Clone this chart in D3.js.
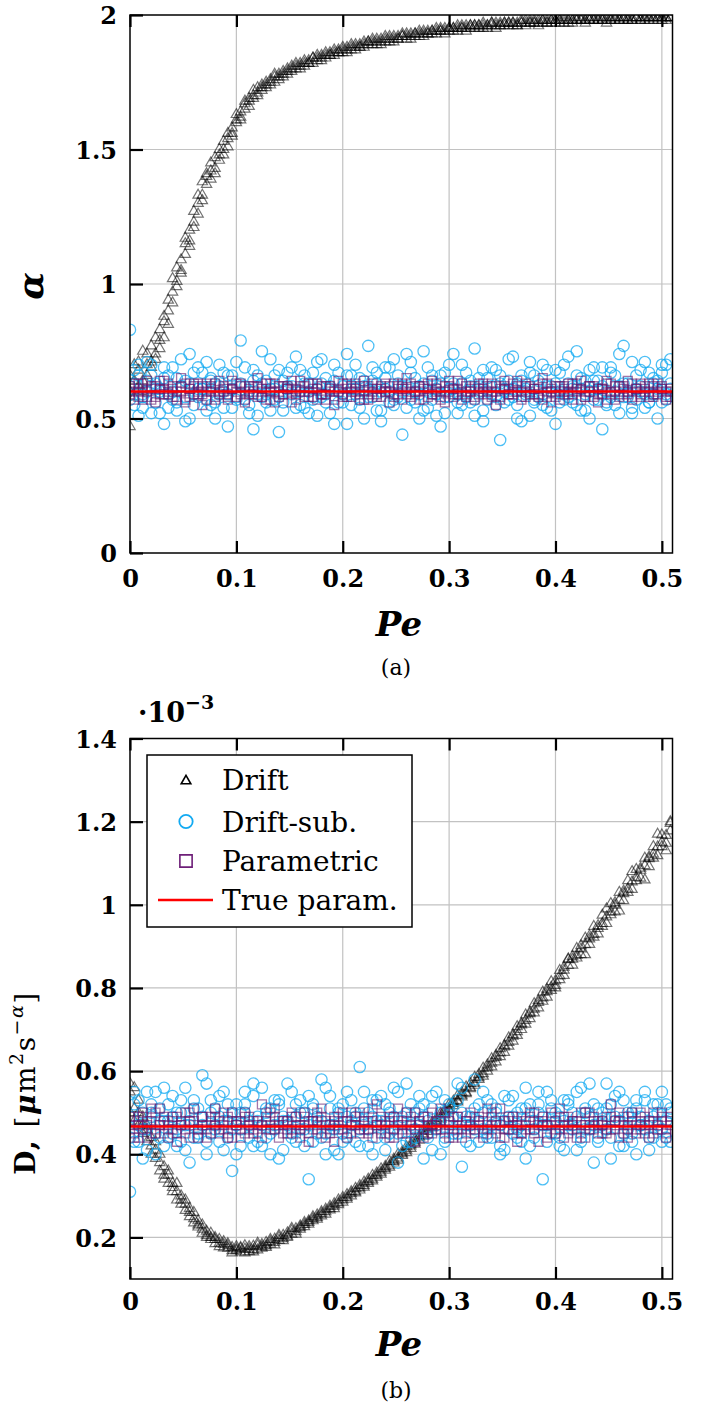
<!DOCTYPE html>
<html><head><meta charset="utf-8">
<script src="https://cdn.jsdelivr.net/npm/d3@7"></script>
<style>body{margin:0;background:#fff;} svg{display:block}</style>
</head><body>
<svg id="chart" width="702" height="1410"></svg>
<script>
// ---------------- DATA ----------------
const Pe = [0,0.004,0.008,0.012,0.016,0.02,0.024,0.028,0.032,0.036,
 0.04,0.044,0.048,0.052,0.056,0.06,0.064,0.068,0.072,0.076,
 0.08,0.084,0.088,0.092,0.096,0.1,0.104,0.108,0.112,0.116,
 0.12,0.124,0.128,0.132,0.136,0.14,0.144,0.148,0.152,0.156,
 0.16,0.164,0.168,0.172,0.176,0.18,0.184,0.188,0.192,0.196,
 0.2,0.204,0.208,0.212,0.216,0.22,0.224,0.228,0.232,0.236,
 0.24,0.244,0.248,0.252,0.256,0.26,0.264,0.268,0.272,0.276,
 0.28,0.284,0.288,0.292,0.296,0.3,0.304,0.308,0.312,0.316,
 0.32,0.324,0.328,0.332,0.336,0.34,0.344,0.348,0.352,0.356,
 0.36,0.364,0.368,0.372,0.376,0.38,0.384,0.388,0.392,0.396,
 0.4,0.404,0.408,0.412,0.416,0.42,0.424,0.428,0.432,0.436,
 0.44,0.444,0.448,0.452,0.456,0.46,0.464,0.468,0.472,0.476,
 0.48,0.484,0.488,0.492,0.496,0.5,0.504,0.508];

// ---- panel (a): alpha, three realisations per Pe ----
const driftAlpha1 = [0.66,0.58,0.71,0.64,0.74,0.69,0.72,0.83,0.80,0.90,
 0.97,1.01,1.09,1.11,1.20,1.23,1.30,1.33,1.37,1.42,
 1.43,1.48,1.50,1.54,1.58,1.60,1.64,1.65,1.68,1.70,
 1.71,1.73,1.74,1.76,1.75,1.78,1.77,1.79,1.80,1.81,
 1.80,1.82,1.83,1.82,1.84,1.84,1.85,1.86,1.85,1.87,
 1.87,1.86,1.88,1.88,1.89,1.88,1.89,1.90,1.90,1.89,
 1.91,1.91,1.90,1.92,1.92,1.91,1.92,1.93,1.93,1.92,
 1.93,1.94,1.93,1.94,1.94,1.94,1.95,1.94,1.95,1.95,
 1.95,1.96,1.95,1.95,1.96,1.96,1.95,1.96,1.96,1.97,
 1.96,1.96,1.97,1.96,1.97,1.97,1.96,1.97,1.97,1.97,
 1.98,1.97,1.97,1.98,1.97,1.98,1.98,1.97,1.98,1.98,
 1.98,1.98,1.97,1.98,1.98,1.99,1.98,1.98,1.98,1.99,
 1.98,1.98,1.99,1.98,1.99,1.98,1.99,1.99];
const driftAlpha2 = [0.60,0.70,0.62,0.75,0.66,0.71,0.80,0.76,0.86,0.94,
 0.93,1.06,1.04,1.15,1.16,1.27,1.26,1.38,1.41,1.39,
 1.47,1.46,1.53,1.51,1.56,1.63,1.62,1.67,1.66,1.69,
 1.73,1.72,1.75,1.74,1.77,1.77,1.79,1.78,1.81,1.80,
 1.82,1.81,1.82,1.84,1.83,1.85,1.84,1.85,1.87,1.86,
 1.88,1.87,1.87,1.89,1.88,1.90,1.90,1.89,1.91,1.90,
 1.90,1.92,1.91,1.91,1.93,1.92,1.93,1.92,1.94,1.93,
 1.94,1.93,1.95,1.94,1.95,1.95,1.94,1.96,1.95,1.96,
 1.96,1.95,1.96,1.97,1.96,1.97,1.96,1.97,1.97,1.96,
 1.97,1.97,1.98,1.97,1.98,1.97,1.98,1.98,1.97,1.98,
 1.98,1.98,1.98,1.97,1.98,1.99,1.98,1.98,1.99,1.98,
 1.99,1.98,1.99,1.98,1.99,1.98,1.99,1.99,1.98,1.99,
 1.99,1.99,1.98,1.99,1.99,1.99,1.98,1.99];
const driftAlpha3 = [0.47,0.64,0.68,0.60,0.70,0.77,0.74,0.79,0.88,0.85,
 1.02,0.99,1.05,1.17,1.14,1.21,1.33,1.31,1.40,1.45,
 1.41,1.50,1.48,1.56,1.55,1.61,1.61,1.68,1.69,1.72,
 1.70,1.74,1.73,1.75,1.78,1.76,1.78,1.80,1.79,1.82,
 1.81,1.83,1.82,1.84,1.85,1.83,1.86,1.85,1.86,1.86,
 1.86,1.88,1.89,1.87,1.88,1.89,1.90,1.91,1.89,1.91,
 1.92,1.90,1.92,1.91,1.92,1.93,1.91,1.93,1.92,1.94,
 1.93,1.94,1.94,1.95,1.93,1.95,1.95,1.95,1.96,1.94,
 1.96,1.96,1.96,1.96,1.95,1.97,1.97,1.96,1.97,1.97,
 1.97,1.96,1.97,1.98,1.97,1.98,1.97,1.98,1.98,1.98,
 1.97,1.98,1.99,1.98,1.98,1.98,1.99,1.98,1.98,1.99,
 1.98,1.99,1.98,1.99,1.99,1.98,1.99,1.98,1.99,1.99,
 1.98,1.99,1.99,1.99,1.98,1.99,1.99,1.99];

const subAlpha1 = [0.83,0.55,0.66,0.58,0.71,0.52,0.63,0.60,0.69,0.54,
 0.57,0.65,0.62,0.49,0.74,0.59,0.61,0.67,0.53,0.64,
 0.56,0.70,0.60,0.47,0.66,0.58,0.79,0.62,0.55,0.68,
 0.51,0.63,0.59,0.72,0.57,0.45,0.64,0.61,0.69,0.54,
 0.60,0.66,0.52,0.58,0.71,0.63,0.56,0.62,0.48,0.67,
 0.59,0.74,0.55,0.61,0.65,0.50,0.77,0.58,0.63,0.53,
 0.69,0.60,0.57,0.66,0.44,0.62,0.71,0.56,0.59,0.75,
 0.54,0.64,0.61,0.47,0.67,0.58,0.63,0.52,0.70,0.60,
 0.56,0.76,0.62,0.49,0.65,0.59,0.68,0.42,0.61,0.57,
 0.73,0.55,0.64,0.60,0.51,0.66,0.58,0.70,0.54,0.62,
 0.48,0.67,0.59,0.63,0.56,0.75,0.61,0.53,0.68,0.57,
 0.64,0.46,0.60,0.69,0.55,0.62,0.77,0.58,0.52,0.66,
 0.60,0.71,0.56,0.63,0.50,0.67,0.59,0.72];
const subAlpha2 = [0.62,0.68,0.51,0.59,0.64,0.70,0.56,0.61,0.48,0.66,
 0.60,0.53,0.72,0.58,0.63,0.55,0.69,0.61,0.57,0.65,
 0.50,0.62,0.67,0.59,0.54,0.71,0.63,0.57,0.60,0.46,
 0.66,0.58,0.64,0.53,0.61,0.68,0.56,0.62,0.59,0.73,
 0.55,0.63,0.60,0.67,0.51,0.58,0.65,0.61,0.70,0.56,
 0.62,0.48,0.66,0.59,0.57,0.64,0.61,0.69,0.53,0.60,
 0.65,0.56,0.72,0.58,0.62,0.54,0.67,0.60,0.50,0.63,
 0.69,0.57,0.59,0.66,0.52,0.61,0.74,0.56,0.63,0.58,
 0.64,0.51,0.60,0.68,0.57,0.62,0.55,0.66,0.60,0.72,
 0.58,0.63,0.49,0.61,0.67,0.56,0.64,0.59,0.62,0.53,
 0.68,0.60,0.57,0.73,0.62,0.55,0.65,0.59,0.50,0.64,
 0.61,0.69,0.56,0.58,0.66,0.52,0.63,0.60,0.71,0.57,
 0.62,0.54,0.67,0.59,0.64,0.56,0.70,0.61];
const subAlpha3 = [0.57,0.63,0.70,0.54,0.60,0.66,0.61,0.52,0.65,0.59,
 0.69,0.56,0.62,0.64,0.50,0.67,0.58,0.61,0.71,0.55,
 0.63,0.59,0.54,0.66,0.61,0.57,0.62,0.69,0.52,0.64,
 0.59,0.75,0.56,0.61,0.66,0.58,0.53,0.67,0.62,0.60,
 0.68,0.54,0.63,0.57,0.61,0.72,0.59,0.52,0.64,0.60,
 0.56,0.66,0.61,0.70,0.54,0.62,0.58,0.64,0.67,0.49,
 0.61,0.69,0.55,0.63,0.60,0.74,0.57,0.65,0.62,0.53,
 0.60,0.66,0.51,0.63,0.58,0.70,0.61,0.59,0.55,0.67,
 0.62,0.57,0.65,0.53,0.60,0.69,0.58,0.63,0.56,0.64,
 0.61,0.50,0.66,0.59,0.71,0.57,0.62,0.55,0.68,0.60,
 0.63,0.56,0.70,0.58,0.61,0.66,0.53,0.64,0.60,0.69,
 0.57,0.62,0.55,0.67,0.60,0.74,0.58,0.63,0.54,0.61,
 0.68,0.59,0.56,0.65,0.61,0.70,0.57,0.63];

const paramAlpha1 = [0.62,0.57,0.60,0.63,0.58,0.61,0.56,0.64,0.59,0.60,
 0.62,0.58,0.65,0.57,0.61,0.59,0.63,0.55,0.60,0.62,
 0.58,0.64,0.60,0.57,0.61,0.63,0.59,0.56,0.62,0.60,
 0.65,0.58,0.61,0.57,0.63,0.60,0.59,0.62,0.56,0.61,
 0.64,0.58,0.60,0.63,0.57,0.62,0.59,0.61,0.55,0.60,
 0.63,0.58,0.62,0.60,0.57,0.64,0.59,0.61,0.58,0.62,
 0.60,0.56,0.63,0.59,0.61,0.65,0.58,0.60,0.62,0.57,
 0.61,0.59,0.63,0.60,0.56,0.62,0.58,0.64,0.60,0.59,
 0.61,0.57,0.63,0.60,0.62,0.58,0.55,0.61,0.64,0.59,
 0.60,0.62,0.57,0.63,0.59,0.61,0.58,0.65,0.60,0.56,
 0.62,0.59,0.61,0.63,0.57,0.60,0.64,0.58,0.62,0.60,
 0.56,0.61,0.63,0.59,0.62,0.58,0.60,0.64,0.57,0.61,
 0.59,0.62,0.60,0.58,0.63,0.61,0.57,0.60];
const paramAlpha2 = [0.60,0.63,0.58,0.61,0.64,0.57,0.62,0.59,0.61,0.63,
 0.58,0.60,0.62,0.56,0.61,0.63,0.59,0.62,0.57,0.60,
 0.63,0.59,0.61,0.58,0.64,0.60,0.62,0.57,0.61,0.59,
 0.62,0.60,0.57,0.63,0.60,0.58,0.62,0.61,0.64,0.59,
 0.60,0.62,0.58,0.61,0.63,0.59,0.57,0.62,0.60,0.64,
 0.58,0.61,0.60,0.63,0.59,0.57,0.62,0.60,0.61,0.58,
 0.63,0.60,0.59,0.62,0.57,0.61,0.63,0.59,0.60,0.62,
 0.58,0.64,0.60,0.57,0.62,0.60,0.61,0.59,0.63,0.58,
 0.60,0.62,0.59,0.61,0.57,0.63,0.60,0.58,0.62,0.61,
 0.59,0.64,0.60,0.58,0.62,0.59,0.61,0.57,0.63,0.60,
 0.58,0.62,0.60,0.59,0.63,0.61,0.57,0.60,0.62,0.58,
 0.61,0.59,0.64,0.60,0.57,0.62,0.61,0.59,0.63,0.60,
 0.58,0.61,0.63,0.59,0.60,0.62,0.58,0.61];
const paramAlpha3 = [0.59,0.61,0.63,0.57,0.60,0.62,0.58,0.61,0.64,0.59,
 0.61,0.57,0.60,0.63,0.58,0.62,0.60,0.59,0.63,0.61,
 0.57,0.60,0.62,0.59,0.61,0.58,0.63,0.60,0.59,0.62,
 0.58,0.61,0.63,0.60,0.56,0.62,0.59,0.61,0.60,0.57,
 0.62,0.60,0.63,0.58,0.61,0.59,0.62,0.60,0.57,0.61,
 0.59,0.63,0.58,0.61,0.62,0.60,0.57,0.63,0.59,0.61,
 0.60,0.62,0.58,0.61,0.63,0.59,0.60,0.62,0.57,0.61,
 0.63,0.59,0.61,0.58,0.60,0.64,0.59,0.61,0.57,0.62,
 0.60,0.58,0.61,0.63,0.59,0.60,0.62,0.57,0.61,0.59,
 0.63,0.60,0.58,0.62,0.60,0.61,0.59,0.63,0.58,0.61,
 0.60,0.57,0.62,0.60,0.59,0.63,0.61,0.58,0.60,0.62,
 0.59,0.61,0.57,0.63,0.60,0.59,0.62,0.60,0.58,0.61,
 0.63,0.60,0.58,0.62,0.59,0.61,0.60,0.58];
const trueAlpha = 0.6;

// ---- panel (b): D in units of 1e-3, three realisations per Pe ----
const driftD1 = [0.55,0.51,0.53,0.47,0.46,0.42,0.43,0.38,0.37,0.35,
 0.33,0.31,0.30,0.28,0.27,0.245,0.24,0.22,0.215,0.20,
 0.195,0.186,0.183,0.174,0.176,0.178,0.165,0.172,0.166,0.179,
 0.17,0.183,0.18,0.19,0.188,0.2,0.197,0.211,0.208,0.221,
 0.224,0.231,0.236,0.245,0.248,0.257,0.262,0.27,0.275,0.283,
 0.29,0.296,0.305,0.31,0.319,0.325,0.334,0.34,0.349,0.357,
 0.366,0.374,0.383,0.391,0.401,0.41,0.42,0.429,0.441,0.449,
 0.461,0.469,0.481,0.489,0.502,0.509,0.522,0.529,0.542,0.549,
 0.561,0.571,0.584,0.594,0.608,0.619,0.633,0.644,0.658,0.669,
 0.684,0.695,0.711,0.722,0.738,0.749,0.765,0.776,0.791,0.802,
 0.817,0.829,0.843,0.854,0.869,0.879,0.894,0.904,0.918,0.929,
 0.943,0.955,0.971,0.983,0.999,1.011,1.027,1.038,1.055,1.066,
 1.083,1.094,1.111,1.122,1.139,1.15,1.167,1.178];
const driftD2 = [0.50,0.56,0.47,0.49,0.43,0.44,0.39,0.40,0.35,0.36,
 0.31,0.33,0.28,0.29,0.25,0.26,0.225,0.23,0.205,0.21,
 0.185,0.195,0.175,0.185,0.168,0.172,0.176,0.163,0.178,0.17,
 0.18,0.174,0.188,0.184,0.196,0.193,0.205,0.203,0.216,0.214,
 0.228,0.226,0.24,0.24,0.254,0.252,0.268,0.266,0.281,0.279,
 0.296,0.292,0.31,0.307,0.325,0.321,0.34,0.336,0.355,0.352,
 0.371,0.369,0.388,0.386,0.406,0.404,0.425,0.424,0.445,0.444,
 0.466,0.464,0.486,0.485,0.507,0.505,0.528,0.526,0.548,0.546,
 0.57,0.566,0.592,0.588,0.615,0.61,0.638,0.635,0.662,0.66,
 0.688,0.686,0.715,0.713,0.742,0.74,0.77,0.768,0.797,0.794,
 0.80,0.82,0.85,0.87,0.876,0.872,0.902,0.88,0.925,0.922,
 0.95,0.948,0.99,0.976,1.005,0.985,1.033,1.03,1.08,1.058,
 1.088,1.06,1.115,1.112,1.17,1.14,1.13,1.196];
const driftD3 = [0.57,0.48,0.50,0.45,0.47,0.40,0.41,0.36,0.34,0.33,
 0.32,0.29,0.29,0.265,0.26,0.235,0.23,0.21,0.2,0.195,
 0.2,0.178,0.19,0.18,0.163,0.168,0.173,0.18,0.172,0.165,
 0.186,0.178,0.176,0.195,0.182,0.205,0.192,0.2,0.222,0.208,
 0.22,0.236,0.232,0.25,0.244,0.262,0.256,0.275,0.269,0.29,
 0.285,0.303,0.3,0.318,0.314,0.333,0.33,0.349,0.345,0.365,
 0.362,0.383,0.379,0.4,0.397,0.418,0.414,0.437,0.434,0.457,
 0.455,0.476,0.476,0.498,0.495,0.52,0.517,0.541,0.538,0.562,
 0.558,0.585,0.58,0.607,0.6,0.63,0.622,0.654,0.645,0.68,
 0.672,0.707,0.7,0.735,0.726,0.762,0.752,0.79,0.778,0.815,
 0.806,0.842,0.83,0.868,0.855,0.895,0.88,0.92,0.905,0.948,
 0.93,0.975,0.955,1.003,0.983,1.03,1.01,1.058,1.037,1.085,
 1.064,1.112,1.092,1.14,1.118,1.168,1.148,1.2];

const subD1 = [0.31,0.55,0.43,0.50,0.46,0.52,0.40,0.48,0.56,0.44,
 0.49,0.42,0.53,0.47,0.38,0.51,0.45,0.59,0.43,0.50,
 0.47,0.54,0.41,0.48,0.36,0.52,0.46,0.50,0.44,0.57,
 0.48,0.42,0.51,0.45,0.53,0.39,0.49,0.47,0.55,0.43,
 0.50,0.46,0.34,0.52,0.48,0.44,0.56,0.47,0.41,0.51,
 0.45,0.49,0.53,0.43,0.61,0.47,0.50,0.40,0.48,0.54,
 0.44,0.51,0.46,0.38,0.49,0.57,0.43,0.50,0.47,0.52,
 0.45,0.41,0.55,0.48,0.44,0.51,0.46,0.53,0.37,0.49,
 0.47,0.58,0.43,0.50,0.45,0.52,0.48,0.40,0.54,0.46,
 0.49,0.44,0.51,0.56,0.42,0.48,0.50,0.34,0.47,0.53,
 0.45,0.49,0.41,0.52,0.47,0.55,0.43,0.50,0.46,0.38,
 0.51,0.48,0.57,0.44,0.49,0.42,0.53,0.46,0.50,0.40,
 0.47,0.55,0.44,0.49,0.52,0.43,0.48,0.51];
const subD2 = [0.44,0.52,0.47,0.39,0.55,0.49,0.45,0.51,0.42,0.48,
 0.54,0.46,0.50,0.41,0.47,0.53,0.44,0.49,0.57,0.45,
 0.51,0.43,0.48,0.52,0.46,0.40,0.50,0.55,0.47,0.42,
 0.49,0.56,0.44,0.51,0.47,0.53,0.41,0.48,0.45,0.52,
 0.46,0.50,0.54,0.43,0.49,0.58,0.45,0.51,0.47,0.40,
 0.52,0.44,0.48,0.50,0.46,0.55,0.42,0.49,0.53,0.47,
 0.41,0.50,0.56,0.45,0.48,0.43,0.52,0.46,0.54,0.49,
 0.44,0.51,0.47,0.40,0.53,0.48,0.45,0.57,0.50,0.43,
 0.49,0.46,0.52,0.55,0.44,0.47,0.51,0.42,0.48,0.53,
 0.45,0.50,0.47,0.39,0.52,0.46,0.55,0.49,0.43,0.51,
 0.48,0.44,0.53,0.47,0.50,0.41,0.56,0.46,0.49,0.52,
 0.44,0.47,0.51,0.39,0.54,0.48,0.45,0.50,0.43,0.53,
 0.49,0.46,0.41,0.52,0.47,0.55,0.44,0.50];
const subD3 = [0.49,0.43,0.53,0.46,0.41,0.50,0.55,0.44,0.48,0.52,
 0.45,0.50,0.43,0.56,0.48,0.44,0.51,0.47,0.40,0.53,
 0.46,0.49,0.55,0.44,0.50,0.47,0.42,0.52,0.48,0.54,
 0.43,0.47,0.50,0.40,0.46,0.52,0.48,0.57,0.44,0.49,
 0.53,0.42,0.47,0.51,0.45,0.48,0.40,0.54,0.46,0.50,
 0.43,0.55,0.47,0.49,0.42,0.51,0.46,0.53,0.44,0.48,
 0.52,0.45,0.49,0.55,0.42,0.50,0.47,0.44,0.51,0.39,
 0.48,0.54,0.46,0.50,0.43,0.52,0.49,0.45,0.56,0.47,
 0.42,0.51,0.48,0.46,0.53,0.44,0.50,0.47,0.41,0.49,
 0.54,0.46,0.43,0.51,0.48,0.44,0.52,0.47,0.55,0.45,
 0.50,0.42,0.48,0.53,0.46,0.49,0.44,0.51,0.57,0.47,
 0.43,0.50,0.46,0.52,0.48,0.55,0.42,0.49,0.45,0.51,
 0.47,0.53,0.48,0.44,0.50,0.46,0.52,0.43];

const paramD1 = [0.49,0.45,0.47,0.50,0.44,0.48,0.46,0.51,0.45,0.47,
 0.49,0.43,0.48,0.46,0.50,0.47,0.44,0.49,0.46,0.48,
 0.51,0.45,0.47,0.49,0.44,0.48,0.46,0.50,0.47,0.45,
 0.48,0.52,0.46,0.47,0.49,0.44,0.48,0.46,0.50,0.45,
 0.47,0.49,0.43,0.48,0.46,0.51,0.47,0.45,0.49,0.46,
 0.48,0.44,0.50,0.47,0.45,0.49,0.46,0.48,0.52,0.45,
 0.47,0.49,0.44,0.48,0.46,0.50,0.47,0.43,0.48,0.46,
 0.49,0.45,0.47,0.51,0.46,0.48,0.44,0.49,0.47,0.45,
 0.50,0.46,0.48,0.44,0.47,0.49,0.45,0.51,0.46,0.48,
 0.47,0.43,0.49,0.46,0.50,0.45,0.48,0.47,0.44,0.49,
 0.46,0.51,0.47,0.45,0.48,0.46,0.50,0.44,0.47,0.49,
 0.45,0.48,0.46,0.52,0.47,0.44,0.49,0.46,0.48,0.45,
 0.50,0.47,0.44,0.48,0.46,0.49,0.45,0.47];
const paramD2 = [0.46,0.48,0.44,0.49,0.47,0.45,0.50,0.47,0.48,0.44,
 0.46,0.49,0.47,0.45,0.48,0.51,0.46,0.47,0.44,0.49,
 0.47,0.46,0.50,0.45,0.48,0.47,0.44,0.49,0.46,0.48,
 0.45,0.47,0.49,0.46,0.51,0.47,0.45,0.48,0.46,0.49,
 0.44,0.47,0.48,0.46,0.50,0.45,0.48,0.47,0.43,0.49,
 0.46,0.48,0.45,0.47,0.50,0.46,0.48,0.44,0.47,0.49,
 0.45,0.48,0.46,0.51,0.47,0.45,0.49,0.46,0.48,0.44,
 0.47,0.50,0.46,0.48,0.45,0.47,0.49,0.46,0.44,0.48,
 0.46,0.49,0.47,0.45,0.51,0.46,0.48,0.47,0.44,0.49,
 0.46,0.48,0.45,0.47,0.49,0.46,0.43,0.48,0.47,0.50,
 0.45,0.47,0.49,0.46,0.48,0.44,0.47,0.50,0.46,0.48,
 0.47,0.45,0.49,0.46,0.48,0.50,0.45,0.47,0.49,0.46,
 0.48,0.45,0.47,0.50,0.46,0.48,0.44,0.49];
const paramD3 = [0.47,0.44,0.49,0.46,0.48,0.51,0.45,0.47,0.49,0.46,
 0.48,0.45,0.47,0.50,0.44,0.48,0.46,0.49,0.47,0.45,
 0.49,0.48,0.46,0.44,0.50,0.47,0.48,0.45,0.49,0.46,
 0.47,0.44,0.48,0.50,0.46,0.48,0.47,0.45,0.49,0.47,
 0.46,0.50,0.45,0.48,0.47,0.49,0.44,0.46,0.48,0.47,
 0.50,0.45,0.47,0.49,0.46,0.48,0.45,0.51,0.47,0.46,
 0.48,0.44,0.49,0.47,0.45,0.48,0.46,0.50,0.47,0.49,
 0.45,0.47,0.48,0.46,0.50,0.44,0.47,0.49,0.46,0.48,
 0.47,0.45,0.49,0.48,0.46,0.50,0.47,0.44,0.48,0.46,
 0.49,0.47,0.45,0.48,0.46,0.50,0.47,0.49,0.45,0.47,
 0.48,0.46,0.44,0.49,0.47,0.48,0.45,0.47,0.50,0.46,
 0.48,0.47,0.45,0.49,0.46,0.48,0.47,0.44,0.50,0.47,
 0.46,0.49,0.48,0.45,0.47,0.50,0.46,0.48];
const trueD = 0.467;

const xTicks = [0, 0.1, 0.2, 0.3, 0.4, 0.5];
const xTickLabels = ["0", "0.1", "0.2", "0.3", "0.4", "0.5"];
const alphaTicks = [0, 0.5, 1, 1.5, 2];
const alphaTickLabels = ["0", "0.5", "1", "1.5", "2"];
const dTicks = [0.2, 0.4, 0.6, 0.8, 1, 1.2, 1.4];
const dTickLabels = ["0.2", "0.4", "0.6", "0.8", "1", "1.2", "1.4"];
const seriesNames = ["Drift", "Drift-sub.", "Parametric", "True param."];

// ---------------- STYLE ----------------
const FONT = "'DejaVu Serif', 'Liberation Serif', serif";
const C_DRIFT = "#000000", C_SUB = "#12aaf2", C_PAR = "#641a70", C_TRUE = "#ff0000";
const svg = d3.select("#chart");
const symTri = d3.symbol().type(d3.symbolTriangle).size(46);
const symCir = d3.symbol().type(d3.symbolCircle).size(100);
const symSq = d3.symbol().type(d3.symbolSquare).size(80);

function drawSeries(parent, sets, sym, color, op, sw, x, y) {
  sets.forEach(vals => {
    parent.append("g").selectAll("path").data(Pe).join("path")
      .attr("d", sym)
      .attr("transform", (d, i) => `translate(${x(d)},${y(vals[i])})`)
      .attr("fill", "none").attr("stroke", color)
      .attr("stroke-opacity", op).attr("stroke-width", sw);
  });
}

function panel(cfg) {
  const x = d3.scaleLinear().domain([0, 0.51]).range([cfg.left, cfg.right]);
  const y = d3.scaleLinear().domain(cfg.yDomain).range([cfg.bottom, cfg.top]);
  const g = svg.append("g");
  const cid = "clip" + cfg.id;
  g.append("clipPath").attr("id", cid).append("rect")
    .attr("x", cfg.left).attr("y", cfg.top)
    .attr("width", cfg.right - cfg.left).attr("height", cfg.bottom - cfg.top);

  // grid
  g.append("g").selectAll("line").data(xTicks.filter(v => v > 0)).join("line")
    .attr("x1", d => x(d)).attr("x2", d => x(d))
    .attr("y1", cfg.top).attr("y2", cfg.bottom)
    .attr("stroke", "#c2c2c2").attr("stroke-width", 1.2);
  g.append("g").selectAll("line").data(cfg.yTicks.filter(v => v > cfg.yDomain[0] && v < cfg.yDomain[1])).join("line")
    .attr("x1", cfg.left).attr("x2", cfg.right)
    .attr("y1", d => y(d)).attr("y2", d => y(d))
    .attr("stroke", "#c2c2c2").attr("stroke-width", 1.2);

  const m = g.append("g").attr("clip-path", `url(#${cid})`);
  drawSeries(m, cfg.drift, symTri, C_DRIFT, 0.55, 1.2, x, y);
  drawSeries(m, cfg.sub, symCir, C_SUB, 0.75, 1.3, x, y);
  drawSeries(m, cfg.par, symSq, C_PAR, 0.6, 1.3, x, y);
  m.append("line")
    .attr("x1", x(0)).attr("x2", x(0.51))
    .attr("y1", y(cfg.trueVal)).attr("y2", y(cfg.trueVal))
    .attr("stroke", C_TRUE).attr("stroke-width", 2.5);

  // frame
  g.append("rect").attr("x", cfg.left).attr("y", cfg.top)
    .attr("width", cfg.right - cfg.left).attr("height", cfg.bottom - cfg.top)
    .attr("fill", "none").attr("stroke", "#000").attr("stroke-width", 1.5);

  // axes
  const ax = g.append("g").attr("transform", `translate(0,${cfg.bottom})`)
    .call(d3.axisBottom(x).tickValues(xTicks).tickFormat((d, i) => xTickLabels[i])
      .tickSizeInner(-12).tickSizeOuter(0).tickPadding(cfg.xPad));
  const ay = g.append("g").attr("transform", `translate(${cfg.left},0)`)
    .call(d3.axisLeft(y).tickValues(cfg.yTicks).tickFormat((d, i) => cfg.yTickLabels[i])
      .tickSizeInner(-13).tickSizeOuter(0).tickPadding(13));
  const at = g.append("g").attr("transform", `translate(0,${cfg.top})`)
    .call(d3.axisTop(x).tickValues(xTicks).tickFormat("").tickSizeInner(-12).tickSizeOuter(0));
  [ax, ay, at].forEach(a => {
    a.select(".domain").remove();
    a.selectAll(".tick line").attr("stroke", "#000").attr("stroke-width", 2.2);
    a.selectAll("text").attr("fill", "#000").attr("font-family", FONT)
      .attr("font-size", 24).attr("font-weight", "bold");
  });
  ay.selectAll("text").attr("dy", "0.36em");

  // x label + caption
  g.append("text").attr("x", 399).attr("y", cfg.peBase).attr("text-anchor", "middle")
    .attr("font-family", FONT).attr("font-size", 34).attr("font-weight", "bold")
    .attr("font-style", "italic").text("Pe");
  g.append("text").attr("x", 396).attr("y", cfg.capBase).attr("text-anchor", "middle")
    .attr("font-family", FONT).attr("font-size", 22).text(cfg.caption);
  return { x, y, g };
}

// panel (a)
panel({ id: "a", left: 130, right: 672.5, top: 15, bottom: 553,
  yDomain: [0, 2], yTicks: alphaTicks, yTickLabels: alphaTickLabels,
  drift: [driftAlpha1, driftAlpha2, driftAlpha3],
  sub: [subAlpha1, subAlpha2, subAlpha3],
  par: [paramAlpha1, paramAlpha2, paramAlpha3], trueVal: trueAlpha,
  xPad: 17, peBase: 636, capBase: 675, caption: "(a)" });
svg.append("text").attr("transform", "translate(43,286) rotate(-90)")
  .attr("text-anchor", "middle").attr("font-family", FONT).attr("font-size", 36)
  .attr("font-weight", "bold").attr("font-style", "italic").text("α");

// panel (b)
panel({ id: "b", left: 130, right: 672.5, top: 738.5, bottom: 1279,
  yDomain: [0.1, 1.4], yTicks: dTicks, yTickLabels: dTickLabels,
  drift: [driftD1, driftD2, driftD3],
  sub: [subD1, subD2, subD3],
  par: [paramD1, paramD2, paramD3], trueVal: trueD,
  xPad: 14, peBase: 1356, capBase: 1398, caption: "(b)" });

// y label (b)
const dl = svg.append("text").attr("transform", "translate(35,1083) rotate(-90)")
  .attr("text-anchor", "middle").attr("font-family", FONT).attr("font-size", 28)
  .attr("letter-spacing", 1.5);
dl.append("tspan").attr("font-weight", "bold").text("D, ");
dl.append("tspan").text("[");
dl.append("tspan").attr("font-style", "italic").attr("font-weight", "bold").text("μ");
dl.append("tspan").text("m");
dl.append("tspan").attr("font-size", 19).attr("dy", -12).text("2");
dl.append("tspan").attr("dy", 12).text("s");
dl.append("tspan").attr("font-size", 19).attr("dy", -12).text("−");
dl.append("tspan").attr("font-size", 19).attr("font-style", "italic").text("α");
dl.append("tspan").attr("dy", 12).text("]");

// multiplier
const mult = svg.append("text").attr("x", 138).attr("y", 722)
  .attr("font-family", FONT).attr("font-weight", "bold").attr("font-size", 27);
mult.append("tspan").text("·10");
mult.append("tspan").attr("font-size", 19).attr("dy", -13).text("−3");

// legend
const lg = svg.append("g");
lg.append("rect").attr("x", 147).attr("y", 755).attr("width", 265).attr("height", 172)
  .attr("fill", "#fff").attr("stroke", "#000").attr("stroke-width", 1.5);
const rowY = [780, 821.5, 861, 900];
lg.append("path").attr("d", d3.symbol().type(d3.symbolTriangle).size(40)())
  .attr("transform", `translate(186,${rowY[0] + 1})`).attr("fill", "none").attr("stroke", C_DRIFT).attr("stroke-width", 1.6);
lg.append("path").attr("d", d3.symbol().type(d3.symbolCircle).size(140)())
  .attr("transform", `translate(186,${rowY[1]})`).attr("fill", "none").attr("stroke", C_SUB).attr("stroke-width", 1.8);
lg.append("path").attr("d", d3.symbol().type(d3.symbolSquare).size(150)())
  .attr("transform", `translate(186,${rowY[2]})`).attr("fill", "none").attr("stroke", "#6e1f78").attr("stroke-width", 1.6);
lg.append("line").attr("x1", 158).attr("x2", 213).attr("y1", rowY[3]).attr("y2", rowY[3])
  .attr("stroke", C_TRUE).attr("stroke-width", 2.5);
lg.selectAll("text.lab").data(seriesNames).join("text").attr("class", "lab")
  .attr("x", 222).attr("y", (d, i) => rowY[i] + 10)
  .attr("font-family", FONT).attr("font-size", 28).text(d => d);
</script>
</body></html>
